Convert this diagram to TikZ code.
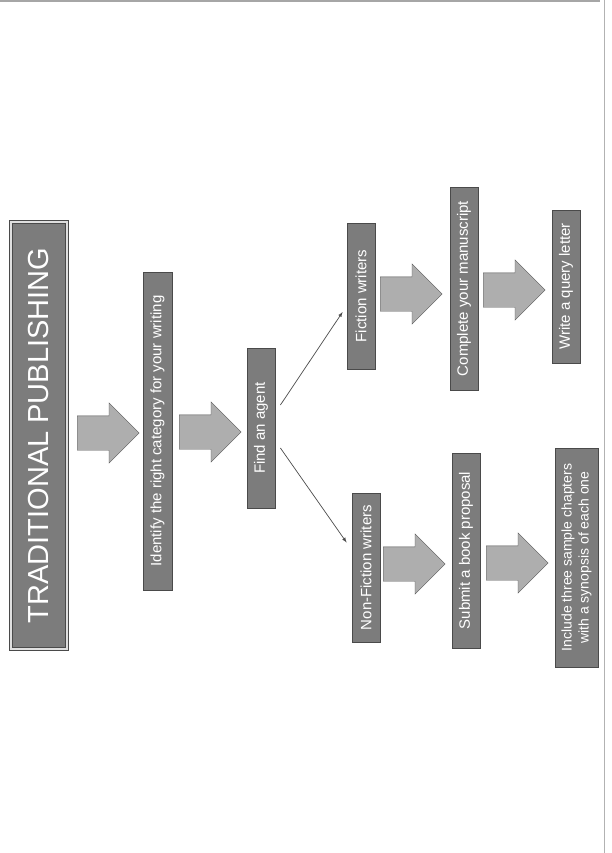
\documentclass[tikz,border=0pt]{standalone}
\usepackage{fontspec}
\setmainfont{Liberation Sans}
\usetikzlibrary{shapes,arrows,positioning,calc}

\definecolor{boxgray}{HTML}{7C7C7C}
\definecolor{boxedge}{HTML}{4A4A4A}
\definecolor{arrowgray}{HTML}{AEAEAE}
\definecolor{arrowedge}{HTML}{555555}

\begin{document}
\begin{tikzpicture}
[
	x=1pt, y=-1pt,
	box/.style={rectangle,draw=boxedge,thick,fill=boxgray,text=white,rotate=90,minimum height=28pt,inner sep=2pt,font=\fontsize{15}{18}\selectfont},
	bigarrow/.style={single arrow,draw=arrowedge,fill=arrowgray,anchor=tail,minimum height=62pt,inner xsep=0pt,inner ysep=17pt,single arrow head extend=13pt},
	link/.style={-latex,draw=gray!60!black,line width=0.7pt},
]

	\fill[white] (0,0) rectangle (612,853);
	\useasboundingbox (0,0) rectangle (612,853);
	\draw[gray!70,line width=2pt] (0,1.5) -- (600,1.5);
	\draw[gray!60,line width=0.8pt] (604,0) -- (604,853);

	\begin{scope}
		\node[box,double=gray!25,double distance=1.5pt,minimum width=427pt,minimum height=56pt,font=\fontsize{29}{32}\selectfont] (title) at (39,435.5) {TRADITIONAL PUBLISHING};
		\node[box,minimum width=318pt,minimum height=29pt] (category) at (157.5,431) {Identify the right category for your writing};
		\node[box,minimum width=160pt] (agent) at (261,428) {Find an agent};
	\end{scope}

	\begin{scope}
		\node[box,minimum width=146pt] (fiction) at (361,296) {Fiction writers};
		\node[box,minimum width=203pt] (manuscript) at (464,288.5) {Complete your manuscript};
		\node[box,minimum width=153pt] (query) at (566,286.5) {Write a query letter};
	\end{scope}

	\begin{scope}
		\node[box,minimum width=149pt] (nonfiction) at (366,567.5) {Non-Fiction writers};
		\node[box,minimum width=195pt] (proposal) at (466,550.5) {Submit a book proposal};
		\node[box,minimum width=219pt,minimum height=43pt,align=center,font=\fontsize{14}{17}\selectfont] (chapters) at (576.5,557.5) {Include three sample chapters\\with a synopsis of each one};
	\end{scope}

	\node[bigarrow] (a1) at (77,433) {};
	\node[bigarrow] (a2) at (179,432) {};
	\node[bigarrow] (a3) at (380,294) {};
	\node[bigarrow] (a4) at (483,290) {};
	\node[bigarrow] (a5) at (383,564) {};
	\node[bigarrow] (a6) at (486,563) {};

	\draw[link] ($(agent.south)+(5,-23)$) -- ($(fiction.north)+(-4,16)$);
	\draw[link] ($(agent.south)+(5,20)$) -- ($(nonfiction.north)+(-5,-25)$);
\end{tikzpicture}
\end{document}
